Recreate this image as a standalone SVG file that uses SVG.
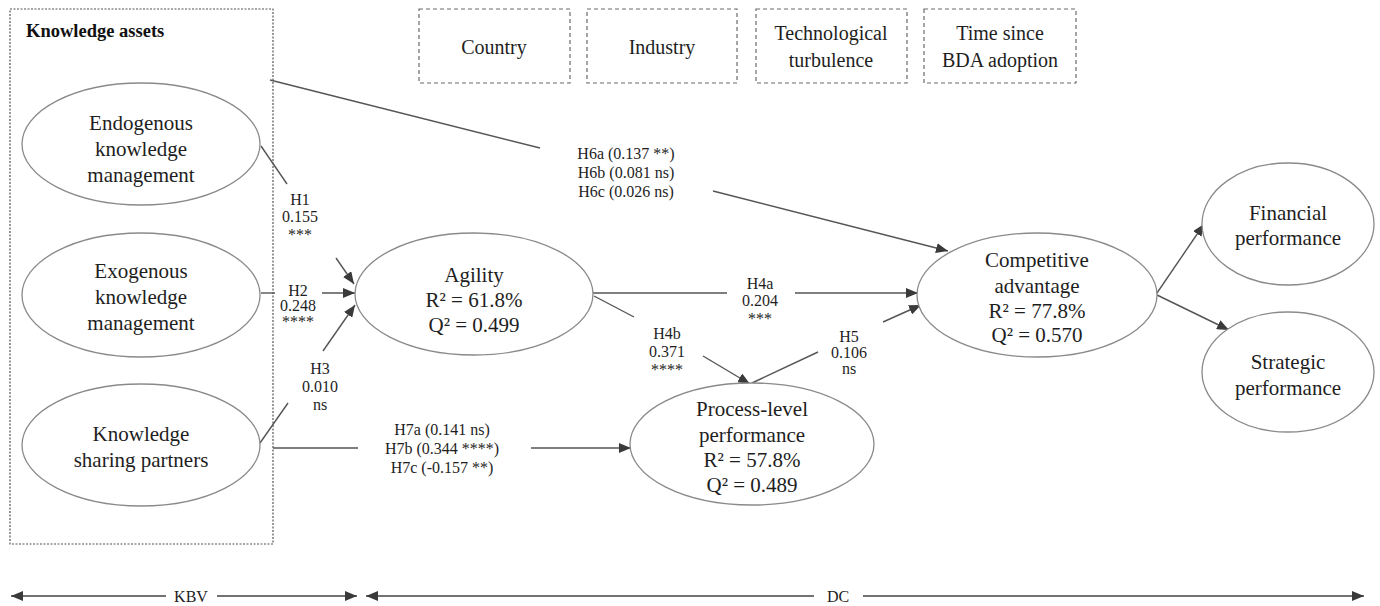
<svg xmlns="http://www.w3.org/2000/svg" width="1380" height="606" viewBox="0 0 1380 606">
<style>
.bg{fill:#ffffff}
.node{fill:#ffffff;stroke:#8a8a8a;stroke-width:1.3}
.ctrl{fill:#ffffff;stroke:#6a6a6a;stroke-width:1.2;stroke-dasharray:4 3}
.group{fill:none;stroke:#555;stroke-width:1.2;stroke-dasharray:2 1.5}
.t{font-family:"Liberation Serif","Times New Roman",serif;fill:#1e1e1e;text-anchor:middle}
.nt{font-size:21px}
.ct{font-size:20px}
.lb{font-size:16px}
.hd{font-family:"Liberation Serif","Times New Roman",serif;font-weight:bold;font-size:18.5px;fill:#111}
.ln{fill:none;stroke:#555;stroke-width:1.4}
.ar{fill:none;stroke:#555;stroke-width:1.4;marker-end:url(#ah)}
.ax{fill:none;stroke:#444;stroke-width:1.6}
</style>
<defs>
<marker id="ah" viewBox="0 0 12 10" refX="12" refY="5" markerWidth="12" markerHeight="10" markerUnits="userSpaceOnUse" orient="auto">
<path d="M0,0 L12,5 L0,10 z" fill="#3a3a3a"/>
</marker>
<marker id="ahs" viewBox="0 0 12 10" refX="0" refY="5" markerWidth="12" markerHeight="10" markerUnits="userSpaceOnUse" orient="auto">
<path d="M12,0 L0,5 L12,10 z" fill="#3a3a3a"/>
</marker>
</defs>
<rect class="bg" x="0" y="0" width="1380" height="606"/>

<g id="knowledge-assets">
<rect class="group" x="10" y="9" width="263" height="535"/>
<text class="hd" x="26" y="37">Knowledge assets</text>
</g>

<g id="controls">
<g id="country"><rect class="ctrl" x="419" y="9" width="151" height="74"/><text class="t ct" x="494" y="54">Country</text></g>
<g id="industry"><rect class="ctrl" x="587" y="9" width="150" height="74"/><text class="t ct" x="662" y="54">Industry</text></g>
<g id="turbulence"><rect class="ctrl" x="756" y="9" width="151" height="74"/><text class="t ct" x="831" y="40">Technological</text><text class="t ct" x="831" y="67">turbulence</text></g>
<g id="time"><rect class="ctrl" x="924" y="9" width="152" height="74"/><text class="t ct" x="1000" y="40">Time since</text><text class="t ct" x="1000" y="67">BDA adoption</text></g>
</g>

<g id="connectors">
<!-- H6 -->
<line class="ln" x1="270" y1="80" x2="540" y2="148"/>
<line class="ar" x1="713" y1="191" x2="948" y2="251"/>
<text class="t lb" x="626" y="159">H6a (0.137 **)</text>
<text class="t lb" x="626" y="178">H6b (0.081 ns)</text>
<text class="t lb" x="626" y="197">H6c (0.026  ns)</text>
<!-- H1 -->
<line class="ln" x1="261" y1="146" x2="287" y2="184"/>
<line class="ar" x1="336" y1="258" x2="354" y2="284"/>
<text class="t lb" x="300" y="205">H1</text>
<text class="t lb" x="300" y="222">0.155</text>
<text class="t lb" x="300" y="240">***</text>
<!-- H2 -->
<line class="ln" x1="261" y1="293" x2="275" y2="293"/>
<line class="ar" x1="322" y1="293" x2="355" y2="293"/>
<text class="t lb" x="298" y="296">H2</text>
<text class="t lb" x="298" y="311">0.248</text>
<text class="t lb" x="298" y="327">****</text>
<!-- H3 -->
<line class="ln" x1="260" y1="443" x2="288" y2="403"/>
<line class="ar" x1="323" y1="351" x2="355" y2="305"/>
<text class="t lb" x="320" y="374">H3</text>
<text class="t lb" x="320" y="392">0.010</text>
<text class="t lb" x="320" y="410">ns</text>
<!-- H7 -->
<line class="ln" x1="273" y1="448" x2="358" y2="448"/>
<line class="ar" x1="531" y1="448" x2="631" y2="448"/>
<text class="t lb" x="442" y="435">H7a (0.141 ns)</text>
<text class="t lb" x="442" y="454">H7b (0.344 ****)</text>
<text class="t lb" x="442" y="473">H7c (-0.157 **)</text>
<!-- H4a -->
<line class="ln" x1="593" y1="293" x2="727" y2="293"/>
<line class="ar" x1="795" y1="293" x2="918" y2="293"/>
<text class="t lb" x="760" y="289">H4a</text>
<text class="t lb" x="760" y="306">0.204</text>
<text class="t lb" x="760" y="324">***</text>
<!-- H4b -->
<line class="ln" x1="594" y1="296" x2="634" y2="317"/>
<line class="ar" x1="703" y1="356" x2="750" y2="384"/>
<text class="t lb" x="667" y="339">H4b</text>
<text class="t lb" x="667" y="357">0.371</text>
<text class="t lb" x="667" y="375">****</text>
<!-- H5 -->
<line class="ln" x1="752" y1="383" x2="818" y2="352"/>
<line class="ar" x1="883" y1="322" x2="921" y2="305"/>
<text class="t lb" x="849" y="342">H5</text>
<text class="t lb" x="849" y="358">0.106</text>
<text class="t lb" x="849" y="374">ns</text>
<!-- CA to outcomes -->
<line class="ar" x1="1157" y1="293" x2="1204" y2="224"/>
<line class="ar" x1="1157" y1="295" x2="1229" y2="330"/>
<!-- theory axes -->
<line class="ax" x1="11" y1="596" x2="166" y2="596" marker-start="url(#ahs)"/>
<line class="ax" x1="217" y1="596" x2="357" y2="596" marker-end="url(#ah)"/>
<text class="t lb" x="191" y="602">KBV</text>
<line class="ax" x1="366" y1="596" x2="814" y2="596" marker-start="url(#ahs)"/>
<line class="ax" x1="863" y1="596" x2="1364" y2="596" marker-end="url(#ah)"/>
<text class="t lb" x="838" y="602">DC</text>
</g>

<g id="endogenous">
<ellipse class="node" cx="141" cy="144" rx="119" ry="61"/>
<text class="t nt" x="141" y="130">Endogenous</text>
<text class="t nt" x="141" y="156">knowledge</text>
<text class="t nt" x="141" y="182">management</text>
</g>
<g id="exogenous">
<ellipse class="node" cx="141" cy="295" rx="119" ry="62"/>
<text class="t nt" x="141" y="278">Exogenous</text>
<text class="t nt" x="141" y="304">knowledge</text>
<text class="t nt" x="141" y="330">management</text>
</g>
<g id="sharing">
<ellipse class="node" cx="141" cy="445" rx="119" ry="61"/>
<text class="t nt" x="141" y="441">Knowledge</text>
<text class="t nt" x="141" y="467">sharing partners</text>
</g>
<g id="agility">
<ellipse class="node" cx="474" cy="294" rx="119" ry="61"/>
<text class="t nt" x="474" y="282">Agility</text>
<text class="t nt" x="474" y="307">R² = 61.8%</text>
<text class="t nt" x="474" y="332">Q² = 0.499</text>
</g>
<g id="process">
<ellipse class="node" cx="752" cy="444" rx="122" ry="61"/>
<text class="t nt" x="752" y="416">Process-level</text>
<text class="t nt" x="752" y="442">performance</text>
<text class="t nt" x="752" y="467">R² = 57.8%</text>
<text class="t nt" x="752" y="492">Q² = 0.489</text>
</g>
<g id="competitive">
<ellipse class="node" cx="1037" cy="295" rx="120" ry="62"/>
<text class="t nt" x="1037" y="267">Competitive</text>
<text class="t nt" x="1037" y="293">advantage</text>
<text class="t nt" x="1037" y="318">R² = 77.8%</text>
<text class="t nt" x="1037" y="342">Q² = 0.570</text>
</g>
<g id="financial">
<ellipse class="node" cx="1288" cy="224" rx="86" ry="61"/>
<text class="t nt" x="1288" y="220">Financial</text>
<text class="t nt" x="1288" y="245">performance</text>
</g>
<g id="strategic">
<ellipse class="node" cx="1288" cy="372" rx="86" ry="60"/>
<text class="t nt" x="1288" y="369">Strategic</text>
<text class="t nt" x="1288" y="395">performance</text>
</g>
</svg>
